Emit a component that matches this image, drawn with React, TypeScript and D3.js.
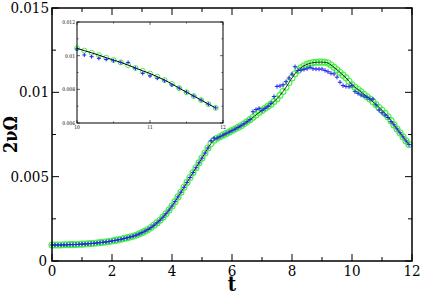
import React from "react";
import * as d3 from "d3";

// model curve (green circles + black line), t = 0 .. 11.9 step 0.1
const modelValues = [
  0.00095, 0.00095, 0.00095, 0.00095, 0.00096, 0.00096, 0.00097, 0.00097, 0.00098, 0.00099,
  0.00100, 0.00101, 0.00102, 0.00104, 0.00105, 0.00107, 0.00109, 0.00111, 0.00113, 0.00116,
  0.00119, 0.00122, 0.00125, 0.00129, 0.00133, 0.00137, 0.00142, 0.00147, 0.00153, 0.00160,
  0.00168, 0.00177, 0.00187, 0.00198, 0.00212, 0.00226, 0.00242, 0.00260, 0.00280, 0.00302,
  0.00326, 0.00352, 0.00380, 0.00408, 0.00437, 0.00466, 0.00495, 0.00524, 0.00553, 0.00582,
  0.00610, 0.00640, 0.00670, 0.00697, 0.00716, 0.00728, 0.00737, 0.00746, 0.00755, 0.00764,
  0.00773, 0.00782, 0.00792, 0.00802, 0.00813, 0.00825, 0.00838, 0.00852, 0.00866, 0.00880,
  0.00893, 0.00905, 0.00917, 0.00930, 0.00945, 0.00962, 0.00982, 0.01005, 0.01030, 0.01058,
  0.01085, 0.01110, 0.01130, 0.01146, 0.01158, 0.01166, 0.01172, 0.01176, 0.01178, 0.01179,
  0.01179, 0.01178, 0.01174, 0.01162, 0.01148, 0.01134, 0.01118, 0.01102, 0.01086, 0.01066,
  0.01044, 0.01030, 0.01017, 0.01003, 0.00988, 0.00974, 0.00960, 0.00944, 0.00927, 0.00910,
  0.00894, 0.00875, 0.00855, 0.00832, 0.00807, 0.00783, 0.00760, 0.00736, 0.00712, 0.00690,
];

// simulation data (blue pluses)
const simValues = [
  0.00095, 0.00095, 0.00095, 0.00095, 0.00096, 0.00096, 0.00097, 0.00097, 0.00098, 0.00099,
  0.00100, 0.00101, 0.00102, 0.00104, 0.00105, 0.00107, 0.00109, 0.00111, 0.00113, 0.00116,
  0.00119, 0.00122, 0.00125, 0.00129, 0.00133, 0.00137, 0.00142, 0.00147, 0.00153, 0.00160,
  0.00168, 0.00177, 0.00187, 0.00198, 0.00212, 0.00226, 0.00242, 0.00260, 0.00280, 0.00302,
  0.00326, 0.00352, 0.00380, 0.00408, 0.00437, 0.00466, 0.00495, 0.00524, 0.00553, 0.00582,
  0.00610, 0.00640, 0.00670, 0.00712, 0.00728, 0.00728, 0.00737, 0.00746, 0.00755, 0.00764,
  0.00773, 0.00782, 0.00792, 0.00802, 0.00813, 0.00825, 0.00838, 0.00885, 0.00898, 0.00905,
  0.00893, 0.00905, 0.00917, 0.00935, 0.00975, 0.01035, 0.01038, 0.01045, 0.01063, 0.01085,
  0.01108, 0.01152, 0.01130, 0.01132, 0.01136, 0.01140, 0.01148, 0.01140, 0.01138, 0.01138,
  0.01138, 0.01130, 0.01122, 0.01113, 0.01109, 0.01090, 0.01060, 0.01040, 0.01035, 0.01033,
  0.01040, 0.01004, 0.00994, 0.00984, 0.00978, 0.00970, 0.00960, 0.00960, 0.00925, 0.00895,
  0.00879, 0.00866, 0.00851, 0.00826, 0.00807, 0.00783, 0.00760, 0.00736, 0.00712, 0.00690,
];

const xTicks = [0, 2, 4, 6, 8, 10, 12];
const xMinorTicks = [1, 3, 5, 7, 9, 11];
const yTicks = [0, 0.005, 0.01, 0.015];
const yTickLabels = ["0", "0.005", "0.01", "0.015"];
const yMinorTicks = [0.0025, 0.0075, 0.0125];

const insetXTicks = [10, 11, 12];
const insetXMinor = [10.5, 11.5];
const insetYTicks = [0.006, 0.008, 0.01, 0.012];
const insetYTickLabels = ["0.006", "0.008", "0.01", "0.012"];
const insetYMinor = [0.007, 0.009, 0.011];

const tValues = modelValues.map((_, i) => +(i * 0.1).toFixed(1));

const FONT = "DejaVu Serif Condensed, DejaVu Serif";
const GREEN = "#44f044";
const BLUE = "#2222ee";

const Plus = ({ x, y, s }: { x: number; y: number; s: number }) => (
  <path d={`M${x - s},${y}H${x + s}M${x},${y - s}V${y + s}`} stroke={BLUE} strokeWidth={1} />
);

export default function App() {
  const W = 422, H = 292;
  const x = d3.scaleLinear().domain([0, 12]).range([52, 412]);
  const y = d3.scaleLinear().domain([0, 0.015]).range([261, 8]);

  const ix = d3.scaleLinear().domain([10, 12]).range([77, 223]);
  const iy = d3.scaleLinear().domain([0.006, 0.012]).range([123, 22]);

  const line = d3.line<number>().x((_, i) => x(tValues[i])).y(d => y(d));
  const insetIdx = tValues.map((t, i) => i).filter(i => tValues[i] >= 10);
  const insetLine = d3.line<number>().x(i => ix(tValues[i])).y(i => iy(modelValues[i]));

  const [x0, x1] = x.range();
  const [y0, y1] = y.range();
  const [ix0, ix1] = ix.range();
  const [iy0, iy1] = iy.range();

  return (
    <svg width={W} height={H} style={{ position: "absolute", left: 0, top: 0, background: "#fff" }}>
      {/* main data */}
      <g>
        {modelValues.map((v, i) => (
          <circle key={"c" + i} cx={x(tValues[i])} cy={y(v)} r={3} fill="none" stroke={GREEN} strokeWidth={1.1} />
        ))}
        <path d={line(modelValues) || ""} fill="none" stroke="#000" strokeWidth={0.8} />
        {simValues.map((v, i) => (
          <Plus key={"p" + i} x={x(tValues[i])} y={y(v)} s={2.2} />
        ))}
      </g>

      {/* main frame and ticks */}
      <rect x={x0} y={y1} width={x1 - x0} height={y0 - y1} fill="none" stroke="#000" strokeWidth={1.5} />
      {xTicks.map(t => (
        <g key={"xt" + t}>
          <line x1={x(t)} x2={x(t)} y1={y0} y2={y0 - 7} stroke="#000" strokeWidth={1} />
          <line x1={x(t)} x2={x(t)} y1={y1} y2={y1 + 7} stroke="#000" strokeWidth={1} />
          <text x={x(t)} y={276} textAnchor="middle" fontSize={15} fontFamily={FONT}>{t}</text>
        </g>
      ))}
      {xMinorTicks.map(t => (
        <g key={"xm" + t}>
          <line x1={x(t)} x2={x(t)} y1={y0} y2={y0 - 4} stroke="#000" strokeWidth={1} />
          <line x1={x(t)} x2={x(t)} y1={y1} y2={y1 + 4} stroke="#000" strokeWidth={1} />
        </g>
      ))}
      {yTicks.map((v, k) => (
        <g key={"yt" + v}>
          <line x1={x0} x2={x0 + 7} y1={y(v)} y2={y(v)} stroke="#000" strokeWidth={1} />
          <line x1={x1} x2={x1 - 7} y1={y(v)} y2={y(v)} stroke="#000" strokeWidth={1} />
          <text x={k === 0 ? 47 : 49} y={y(v) + 5} textAnchor="end" fontSize={15} fontFamily={FONT}>{yTickLabels[k]}</text>
        </g>
      ))}
      {yMinorTicks.map(v => (
        <g key={"ym" + v}>
          <line x1={x0} x2={x0 + 4} y1={y(v)} y2={y(v)} stroke="#000" strokeWidth={1} />
          <line x1={x1} x2={x1 - 4} y1={y(v)} y2={y(v)} stroke="#000" strokeWidth={1} />
        </g>
      ))}

      {/* axis titles */}
      <text x={232} y={291} textAnchor="middle" fontSize={20} fontWeight="bold" fontFamily={FONT}>t</text>
      <text transform={`translate(17,${(y0 + y1) / 2}) rotate(-90)`} textAnchor="middle" fontSize={18} fontWeight="bold" fontFamily={FONT}>2νΩ</text>

      {/* inset */}
      <rect x={ix0} y={iy1} width={ix1 - ix0} height={iy0 - iy1} fill="#fff" stroke="none" />
      {insetIdx.map(i => (
        <circle key={"ic" + i} cx={ix(tValues[i])} cy={iy(modelValues[i])} r={2.5} fill="none" stroke={GREEN} strokeWidth={1} />
      ))}
      <path d={insetLine(insetIdx) || ""} fill="none" stroke="#000" strokeWidth={1} />
      {insetIdx.map(i => (
        <Plus key={"ip" + i} x={ix(tValues[i])} y={iy(simValues[i])} s={2} />
      ))}
      <rect x={ix0} y={iy1} width={ix1 - ix0} height={iy0 - iy1} fill="none" stroke="#000" strokeWidth={1} />
      {insetXTicks.map(t => (
        <g key={"ixt" + t}>
          <line x1={ix(t)} x2={ix(t)} y1={iy0} y2={iy0 - 3} stroke="#000" strokeWidth={0.6} />
          <line x1={ix(t)} x2={ix(t)} y1={iy1} y2={iy1 + 3} stroke="#000" strokeWidth={0.6} />
          <text x={ix(t)} y={iy0 + 6} textAnchor="middle" fontSize={5} fontFamily={FONT}>{t}</text>
        </g>
      ))}
      {insetXMinor.map(t => (
        <g key={"ixm" + t}>
          <line x1={ix(t)} x2={ix(t)} y1={iy0} y2={iy0 - 1.5} stroke="#000" strokeWidth={0.6} />
          <line x1={ix(t)} x2={ix(t)} y1={iy1} y2={iy1 + 1.5} stroke="#000" strokeWidth={0.6} />
        </g>
      ))}
      {insetYTicks.map((v, k) => (
        <g key={"iyt" + v}>
          <line x1={ix0} x2={ix0 + 3} y1={iy(v)} y2={iy(v)} stroke="#000" strokeWidth={0.6} />
          <line x1={ix1} x2={ix1 - 3} y1={iy(v)} y2={iy(v)} stroke="#000" strokeWidth={0.6} />
          <text x={ix0 - 2} y={iy(v) + 2} textAnchor="end" fontSize={5} fontFamily={FONT}>{insetYTickLabels[k]}</text>
        </g>
      ))}
      {insetYMinor.map(v => (
        <g key={"iym" + v}>
          <line x1={ix0} x2={ix0 + 1.5} y1={iy(v)} y2={iy(v)} stroke="#000" strokeWidth={0.6} />
          <line x1={ix1} x2={ix1 - 1.5} y1={iy(v)} y2={iy(v)} stroke="#000" strokeWidth={0.6} />
        </g>
      ))}
    </svg>
  );
}
